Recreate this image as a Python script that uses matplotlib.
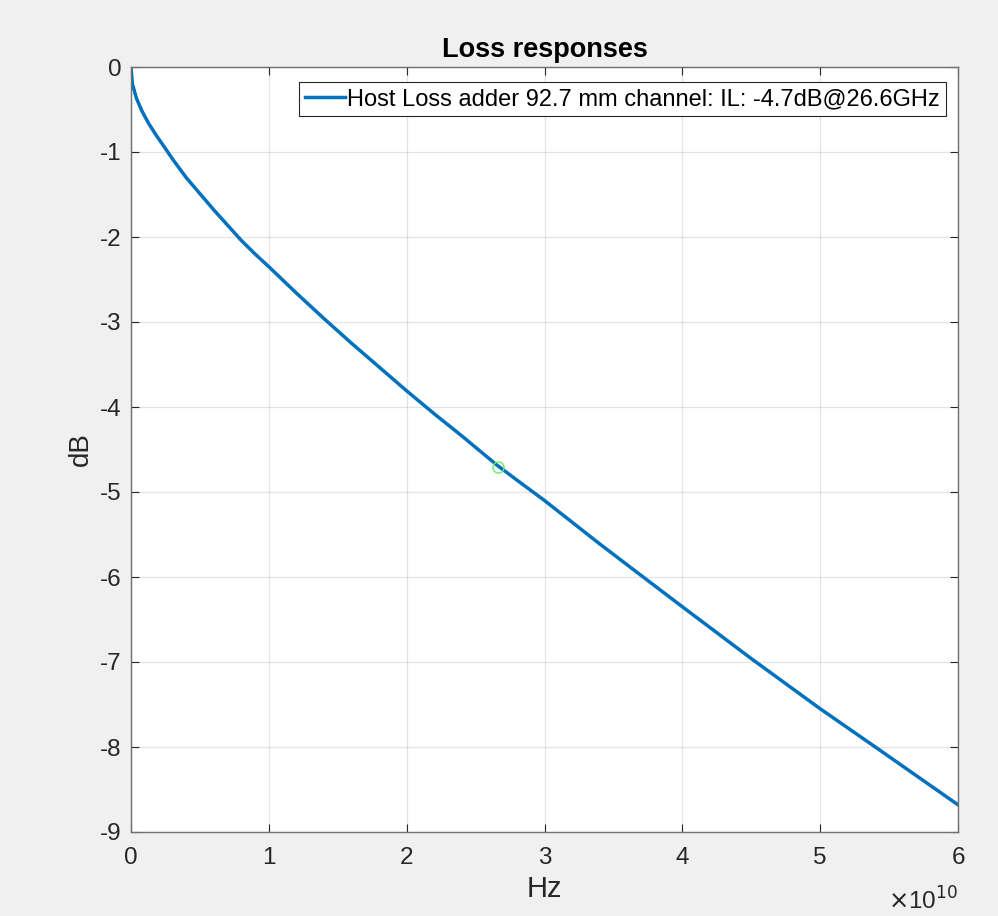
import matplotlib
matplotlib.use("Agg")
import matplotlib.pyplot as plt
from matplotlib.ticker import FuncFormatter

# frequency points (GHz) and insertion loss (dB)
freq_ghz = [0, 0.1, 0.4, 0.8, 1.3, 1.9, 2.5, 3.0, 4.0, 5.0, 6.0, 7.0, 8.0, 9.0,
            10.0, 12.0, 14.0, 16.0, 18.0, 20.0, 22.0, 24.0, 26.6, 28.0, 30.0,
            34.0, 37.4, 40.0, 45.0, 50.0, 54.0, 60.0]
loss_db = [0, -0.20, -0.37, -0.52, -0.67, -0.82, -0.96, -1.08, -1.30, -1.49,
           -1.68, -1.86, -2.04, -2.20, -2.35, -2.66, -2.96, -3.25, -3.53,
           -3.81, -4.08, -4.34, -4.69, -4.86, -5.10, -5.61, -6.03, -6.35,
           -6.96, -7.55, -8.00, -8.68]

mark_f_ghz = 26.6
mark_db = -4.7
legend_label = "Host Loss adder 92.7 mm channel: IL: -4.7dB@26.6GHz"

plt.rcParams['font.family'] = ['Liberation Sans', 'DejaVu Sans']
plt.rcParams['axes.unicode_minus'] = False

fig = plt.figure(figsize=(9.98, 9.16), dpi=100, facecolor='#f0f0f0')
ax = fig.add_axes([131 / 998, 84 / 916, 827 / 998, 765 / 916])
ax.set_facecolor('white')

freq_hz = [f * 1e9 for f in freq_ghz]
ax.plot(freq_hz, loss_db, color='#0072BD', linewidth=2.5, label=legend_label)
ax.plot([mark_f_ghz * 1e9], [mark_db], 'o', markerfacecolor='none',
        markeredgecolor='#66ee66', markersize=8, markeredgewidth=1)

ax.set_xlim(0, 6e10)
ax.set_ylim(-9, 0)
ax.set_xticks([i * 1e10 for i in range(7)])
ax.set_yticks(range(-9, 1))
ax.xaxis.set_major_formatter(FuncFormatter(lambda v, p: "%g" % (v / 1e10)))

ax.grid(True, color='#262626', alpha=0.12, linewidth=0.9)
ax.tick_params(direction='in', length=6, width=0.8, colors='#262626',
               labelsize=17.5, top=True, right=True)
ax.tick_params(axis='x', pad=11)
ax.tick_params(axis='y', pad=7)
for s in ax.spines.values():
    s.set_color('#707070')
    s.set_linewidth(1)

ax.set_title("Loss responses", fontsize=19.5, fontweight='bold', color='black', pad=7)
ax.set_xlabel("Hz", fontsize=21, color='#262626', labelpad=4)
ax.set_ylabel("dB", fontsize=20, color='#262626', labelpad=4)

fig.text(958 / 998, 1 - 901 / 916, r"$\times$10$^{10}$", ha='right', va='center',
         fontsize=17.5, color='#262626')

leg = ax.legend(loc='upper right', bbox_to_anchor=(0.9855, 0.980), borderaxespad=0,
                fontsize=17, fancybox=False, edgecolor='#262626', framealpha=1,
                handlelength=1.7, handletextpad=0.1, borderpad=0.25)
leg.get_frame().set_linewidth(0.8)

fig.savefig("out.png", dpi=100, facecolor=fig.get_facecolor())
